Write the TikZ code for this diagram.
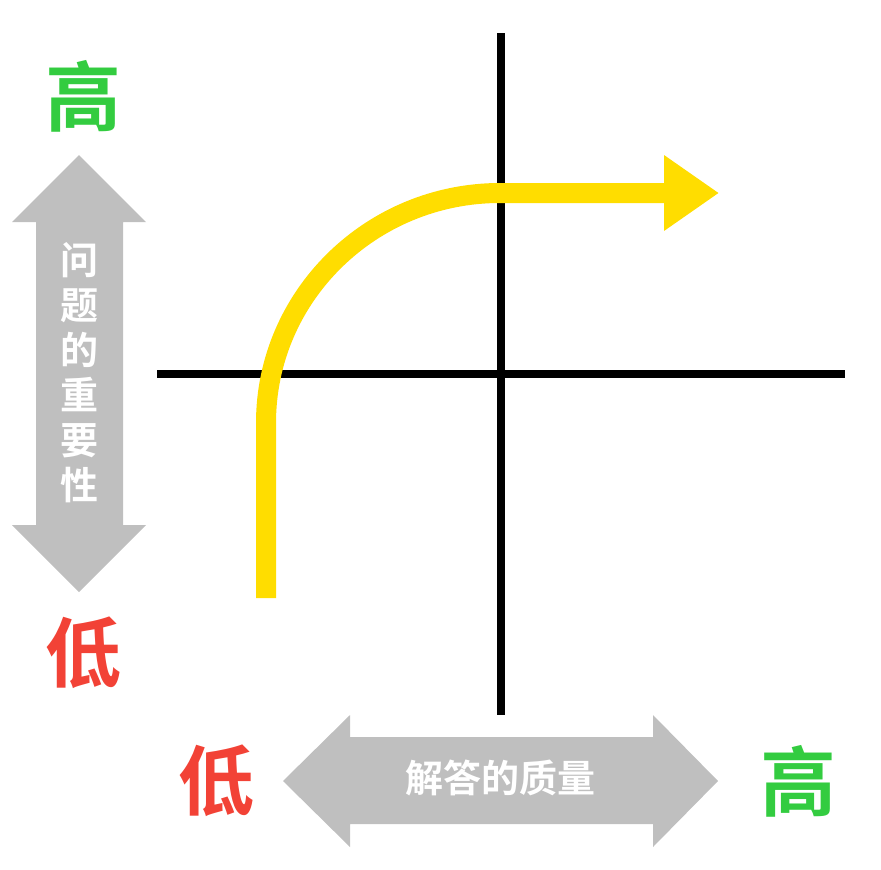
\documentclass[tikz,border=0pt]{standalone}
\usepackage{fontspec}
\newfontfamily\cjk{Noto Sans CJK SC}[BoldFont={Noto Sans CJK SC Bold}]
\usepackage{tikz}
\usetikzlibrary{arrows.meta}

\definecolor{hiGreen}{HTML}{33CC40}
\definecolor{loRed}{HTML}{F24236}
\definecolor{barGray}{HTML}{BFBFBF}
\definecolor{pathYellow}{HTML}{FFDD00}

\begin{document}
\begin{tikzpicture}[
    x=1pt, y=-1pt,
    axis/.style={line width=8pt, black},
    band/.style={fill=barGray, draw=none},
    bandtext/.style={font=\cjk\bfseries\fontsize{38}{45}\selectfont, text=white, align=center, inner sep=0pt},
    level/.style={font=\cjk\bfseries\fontsize{76}{80}\selectfont, inner sep=0pt},
    curve/.style={line width=20pt, pathYellow, line cap=butt,
        -{Triangle[length=55pt, width=72pt]}},
]
\useasboundingbox (0,0) rectangle (881,870);

% === AXES ===
\coordinate (vtop) at (501,33);
\coordinate (vbot) at (501,715);
\coordinate (hleft) at (157,374);
\coordinate (hright) at (845,374);
\draw[axis] (vtop) -- (vbot);
\draw[axis] (hleft) -- (hright);

% === Gray double arrows ===
% vertical: importance of the question
\fill[band] (79,155) -- (146,222) -- (123,222) -- (123,525) -- (146,525)
    -- (79,592) -- (12,525) -- (36,525) -- (36,222) -- (12,222) -- cycle;
% horizontal: quality of the answer
\fill[band] (283,781) -- (350,715) -- (350,737) -- (653,737) -- (653,715)
    -- (718,781) -- (653,847) -- (653,824) -- (350,824) -- (350,847) -- cycle;

\node[bandtext] (importance) at (79,373) {问\\题\\的\\重\\要\\性};
\node[bandtext] (quality) at (500,778) {解答的质量};

% === Levels ===
\node[level, text=hiGreen] (vhigh) at (83,96) {高};
\node[level, text=loRed] (vlow) at (83,653) {低};
\node[level, text=loRed] (hlow) at (216,781) {低};
\node[level, text=hiGreen] (hhigh) at (798,781) {高};

% === Yellow path ===
\coordinate (start) at (266,598);
\coordinate (bend) at (266,423);
\coordinate (flat) at (500,193);
\coordinate (tip) at (719,193);
\draw[curve] (start) -- (bend) .. controls (266,296) and (371,193) .. (flat) -- (tip);

\end{tikzpicture}
\end{document}
